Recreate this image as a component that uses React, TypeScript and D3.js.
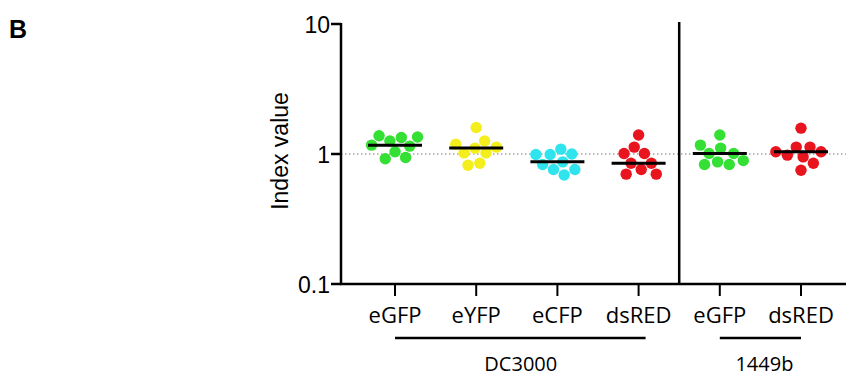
import React, { useRef, useEffect } from 'react';
import * as d3 from 'd3';

// categories along the x axis
const categoryIds = ['dc_egfp', 'dc_eyfp', 'dc_ecfp', 'dc_dsred', 'b_egfp', 'b_dsred'];
const tickLabels = ['eGFP', 'eYFP', 'eCFP', 'dsRED', 'eGFP', 'dsRED'];
const categoryColors = ['#33e033', '#f3ee1c', '#30e4ee', '#e8141e', '#33e033', '#e8141e'];

// strain groups under the axis
const groupNames = ['DC3000', '1449b'];
const groupMembers = [
  ['dc_egfp', 'dc_ecfp', 'dc_eyfp', 'dc_dsred'],
  ['b_egfp', 'b_dsred'],
];

// index values per category
const dcEgfp = [1.34, 1.17, 1.26, 1.38, 1.35, 1.15, 1.04, 0.92, 0.94];
const dcEyfp = [1.6, 1.19, 1.11, 1.13, 1.26, 1.02, 1.02, 0.82, 0.85];
const dcEcfp = [0.99, 1.09, 1.0, 0.99, 0.87, 0.83, 0.69, 0.76, 0.76];
const dcDsred = [1.4, 1.13, 1.01, 1.01, 0.85, 0.85, 0.7, 0.76, 0.7];
const bEgfp = [1.4, 1.17, 1.01, 1.11, 1.01, 0.83, 0.89, 0.83, 0.87];
const bDsred = [1.58, 1.13, 1.13, 0.95, 1.04, 1.04, 0.98, 0.85, 0.75];
const seriesValues = [dcEgfp, dcEyfp, dcEcfp, dcDsred, bEgfp, bDsred];

const yTicks = [0.1, 1, 10];

const W = 846;
const H = 379;

const App = () => {
  const svgRef = useRef<SVGSVGElement>(null);

  useEffect(() => {
    const svg = d3.select(svgRef.current);
    svg.selectAll('*').remove();

    const axisX = 341;
    const top = 24;
    const bottom = 284;
    const r = 5.7;

    const x = d3.scalePoint<string>().domain(categoryIds).range([395, 801]);
    const y = d3.scaleLog().domain([0.1, 10]).range([bottom, top]);

    const sans = "'Liberation Sans', Arial, sans-serif";
    const labelFont = "'Open Sans', 'DejaVu Sans', sans-serif";

    // panel letter
    svg.append('text')
      .attr('x', 9).attr('y', 38)
      .attr('font-family', sans).attr('font-weight', 'bold').attr('font-size', 25)
      .text('B');

    // dotted reference line at 1
    svg.append('line')
      .attr('x1', axisX).attr('x2', W)
      .attr('y1', y(1)).attr('y2', y(1))
      .attr('stroke', '#777').attr('stroke-width', 1)
      .attr('stroke-dasharray', '1.5 2.5');

    // y axis
    svg.append('line')
      .attr('x1', axisX).attr('x2', axisX)
      .attr('y1', top - 1).attr('y2', bottom + 1)
      .attr('stroke', '#000').attr('stroke-width', 2.5);
    yTicks.forEach(t => {
      svg.append('line')
        .attr('x1', axisX - 10).attr('x2', axisX)
        .attr('y1', y(t)).attr('y2', y(t))
        .attr('stroke', '#000').attr('stroke-width', 2.5);
      svg.append('text')
        .attr('x', axisX - 11).attr('y', y(t) + 1)
        .attr('text-anchor', 'end').attr('dominant-baseline', 'central')
        .attr('font-family', sans).attr('font-size', 23)
        .text(String(t));
    });

    svg.append('text')
      .attr('transform', `translate(280,${(top + bottom) / 2 - 3}) rotate(-90)`)
      .attr('text-anchor', 'middle').attr('dominant-baseline', 'central')
      .attr('font-family', sans).attr('font-size', 23)
      .text('Index value');

    // x axis
    svg.append('line')
      .attr('x1', axisX - 1).attr('x2', W)
      .attr('y1', bottom).attr('y2', bottom)
      .attr('stroke', '#000').attr('stroke-width', 2.5);
    categoryIds.forEach((id, i) => {
      svg.append('line')
        .attr('x1', x(id)).attr('x2', x(id))
        .attr('y1', bottom).attr('y2', bottom + 12)
        .attr('stroke', '#000').attr('stroke-width', 2);
      svg.append('text')
        .attr('x', x(id)).attr('y', 323)
        .attr('text-anchor', 'middle')
        .attr('font-family', labelFont).attr('font-size', 22)
        .text(tickLabels[i]);
    });

    // divider between strains
    const divX = ((x('dc_dsred') as number) + (x('b_egfp') as number)) / 2;
    svg.append('line')
      .attr('x1', divX).attr('x2', divX)
      .attr('y1', top - 2).attr('y2', bottom)
      .attr('stroke', '#000').attr('stroke-width', 2.5);

    // group lines and labels
    groupNames.forEach((g, gi) => {
      const xs = groupMembers[gi].map(id => x(id) as number);
      const x0 = d3.min(xs) as number;
      const x1 = d3.max(xs) as number;
      svg.append('line')
        .attr('x1', x0).attr('x2', x1 + (gi === 0 ? 7 : 0))
        .attr('y1', 338).attr('y2', 338)
        .attr('stroke', '#000').attr('stroke-width', 2.5);
      svg.append('text')
        .attr('x', (x0 + x1) / 2 + 4).attr('y', 371)
        .attr('text-anchor', 'middle')
        .attr('font-family', labelFont).attr('font-size', 20)
        .text(g);
    });

    // points as a beeswarm, then median line
    categoryIds.forEach((id, i) => {
      const cx = x(id) as number;
      const nodes: any[] = seriesValues[i].map(v => ({ v, x: cx, fy: y(v) }));
      const sim = d3.forceSimulation(nodes)
        .force('x', d3.forceX(cx).strength(0.15))
        .force('collide', d3.forceCollide(r + 0.3))
        .stop();
      for (let k = 0; k < 300; k++) sim.tick();

      svg.append('g').selectAll('circle')
        .data(nodes)
        .join('circle')
        .attr('cx', d => d.x)
        .attr('cy', d => d.fy)
        .attr('r', r)
        .attr('fill', categoryColors[i]);

      const med = d3.median(seriesValues[i]) as number;
      svg.append('line')
        .attr('x1', cx - 27).attr('x2', cx + 27)
        .attr('y1', y(med)).attr('y2', y(med))
        .attr('stroke', '#000').attr('stroke-width', 3);
    });
  }, []);

  return (
    <svg
      ref={svgRef}
      width={W}
      height={H}
      style={{ position: 'absolute', left: 0, top: 0, background: '#fff' }}
    />
  );
};

export default App;
